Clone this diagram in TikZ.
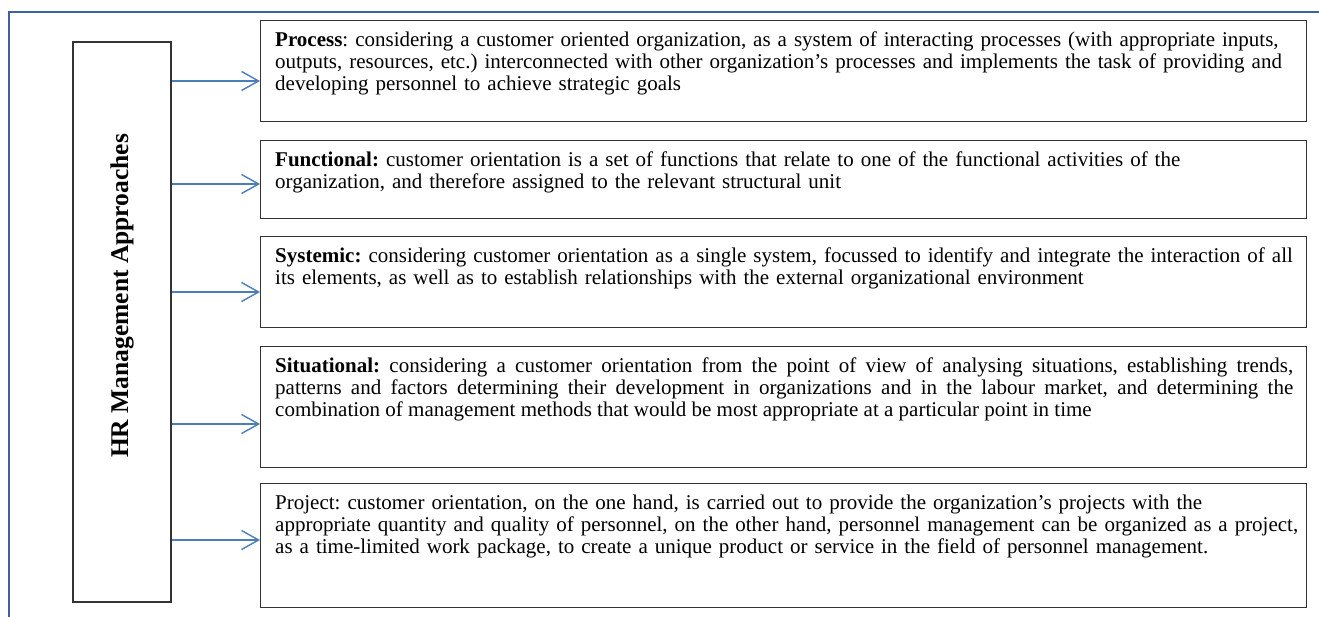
\documentclass[tikz,border=0pt]{standalone}
\usepackage{fontspec}
\setmainfont{Liberation Serif}
\usepackage{tikz}
\usetikzlibrary{arrows.meta}
\definecolor{framecol}{RGB}{60,98,160}
\definecolor{linkcol}{RGB}{74,126,187}
\frenchspacing

\begin{document}
\begin{tikzpicture}[x=1pt,y=1pt]
\tikzset{
	hrbox/.style = {draw=black!80, line width=1.2pt, minimum width=98pt, minimum height=560pt, inner sep=0pt},
	hrlabel/.style = {rotate=90, inner sep=0pt, font=\fontsize{25.5pt}{26pt}\selectfont\bfseries},
	approach/.style = {draw=black!80, line width=1.2pt, anchor=north west, minimum width=1046pt, inner sep=0pt},
	desc/.style = {anchor=north west, inner xsep=15pt, inner ysep=12pt, text width=1025pt, align=left, font=\fontsize{21pt}{21.8pt}\selectfont},
	link/.style = {draw=linkcol, line width=1.4pt, -{Straight Barb[length=17pt,width=19pt]}}
}
\useasboundingbox (0,0) rectangle (1319,-617);

\draw[framecol, line width=1.8pt] (9,-617) -- (9,-12) -- (1319,-12);

\node[hrbox] (hr) at (122,-322) {};
\node[hrlabel] (hr-label) at (122,-296) {HR Management Approaches};

\node[approach, minimum height=101pt] (p1) at (260,-20) {};
\node[desc] (p1-text) at (p1.north west) {\textbf{Process}: considering a customer oriented organization, as a system of interacting processes (with appropriate inputs,\\
outputs, resources, etc.) interconnected with other organization’s processes and implements the task of providing and\\
developing personnel to achieve strategic goals};

\node[approach, minimum height=78pt] (p2) at (260,-140) {};
\node[desc] (p2-text) at (p2.north west) {\textbf{Functional:} customer orientation is a set of functions that relate to one of the functional activities of the\\
organization, and therefore assigned to the relevant structural unit};

\node[approach, minimum height=91pt] (p3) at (260,-236) {};
\node[desc] (p3-text) at (p3.north west) {\textbf{Systemic:} considering customer orientation as a single system, focussed to identify and integrate the interaction of all\\
its elements, as well as to establish relationships with the external organizational environment};

\node[approach, minimum height=121pt] (p4) at (260,-346) {};
\node[desc, text width=1018pt, align=justify] (p4-text) at (p4.north west) {\textbf{Situational:} considering a customer orientation from the point of view of analysing situations, establishing trends,\linebreak
patterns and factors determining their development in organizations and in the labour market, and determining the\linebreak
combination of management methods that would be most appropriate at a particular point in time};

\node[approach, minimum height=124pt] (p5) at (260,-483) {};
\node[desc] (p5-text) at (p5.north west) {Project: customer orientation, on the one hand, is carried out to provide the organization’s projects with the\\
appropriate quantity and quality of personnel, on the other hand, personnel management can be organized as a project,\\
as a time-limited work package, to create a unique product or service in the field of personnel management.};

\foreach \b/\dy in {p1/61,p2/44,p3/56,p4/78,p5/57}{
	\coordinate (\b-in) at ([yshift=-\dy pt]\b.north west);
	\draw[link] (hr.east |- \b-in) -- (\b-in);
}

\end{tikzpicture}
\end{document}
